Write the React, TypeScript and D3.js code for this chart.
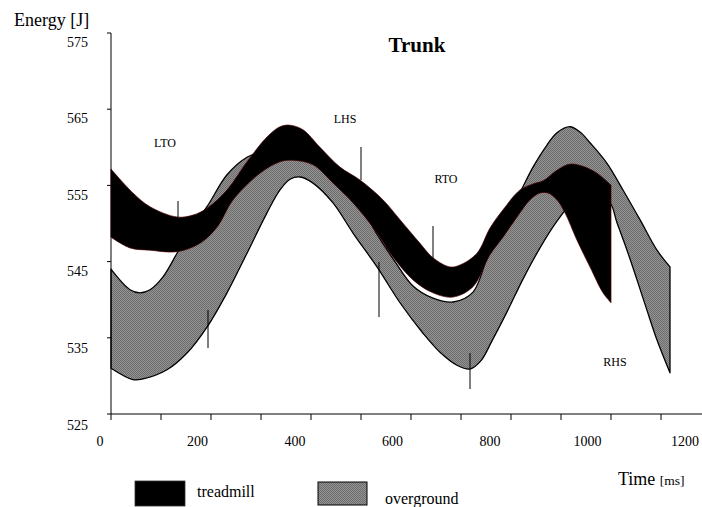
import React from "react";
import * as d3 from "d3";

type P = [number, number];

// time [ms], energy [J]
const treadmillUpper: P[] = [
  [0, 557.15], [44, 554.0], [78, 552.2], [132, 550.85], [164, 551.1], [192, 552.0],
  [232, 554.4], [272, 558.1], [312, 561.35], [338, 562.7], [358, 562.9], [384, 562.3],
  [418, 560.0], [458, 557.4], [498, 555.7], [544, 553.1], [578, 550.5], [618, 547.4],
  [644, 545.5], [678, 544.3], [698, 544.55], [732, 546.1], [758, 549.4], [784, 551.8],
  [818, 554.4], [844, 555.2], [864, 555.6], [892, 557.0], [918, 557.8], [944, 557.5],
  [972, 556.6], [1000, 555.05],
];
const treadmillLower: P[] = [
  [0, 548.2], [38, 546.8], [78, 546.5], [132, 546.3], [178, 547.4], [212, 549.5],
  [244, 553.1], [298, 556.6], [338, 558.1], [364, 558.3], [404, 557.7], [444, 555.3],
  [484, 552.7], [524, 549.5], [564, 545.6], [604, 542.6], [644, 540.9], [684, 540.35],
  [724, 541.7], [758, 545.9], [784, 548.2], [812, 550.85], [838, 553.1], [858, 554.0],
  [874, 554.0], [892, 553.1], [908, 551.4], [932, 547.8], [958, 544.3], [984, 540.9],
  [1000, 539.6],
];
const overgroundUpper: P[] = [
  [0, 544.0], [38, 541.3], [58, 540.9], [78, 541.3], [104, 543.0], [132, 546.1],
  [158, 549.1], [192, 552.2], [232, 556.4], [272, 558.7], [312, 559.6], [358, 560.2],
  [404, 559.4], [444, 557.0], [484, 553.7], [508, 551.4], [532, 548.6], [568, 545.0],
  [604, 541.8], [644, 540.2], [684, 539.7], [724, 541.0], [758, 546.8], [784, 550.2],
  [802, 552.3], [818, 554.1], [844, 557.4], [872, 560.3], [892, 561.9], [918, 562.7],
  [938, 562.0], [958, 560.6], [992, 557.9], [1024, 554.4], [1058, 550.5], [1092, 546.5],
  [1118, 544.3],
];
const overgroundLower: P[] = [
  [0, 531.0], [44, 529.5], [64, 529.6], [112, 530.8], [152, 533.0], [192, 536.4],
  [232, 540.9], [272, 546.1], [312, 551.4], [338, 554.4], [358, 555.8], [378, 556.1],
  [404, 555.3], [444, 552.7], [484, 548.75], [532, 544.3], [578, 539.6], [624, 535.6],
  [658, 533.1], [692, 531.4], [718, 530.9], [740, 532.0], [762, 534.6], [792, 538.4],
  [824, 542.7], [858, 546.8], [892, 550.3], [918, 552.4], [948, 553.5], [974, 553.5],
  [998, 552.7], [1012, 550.1], [1032, 546.5], [1052, 542.6], [1072, 538.6], [1092, 534.7],
  [1118, 530.4],
];

// gait event markers: [time, energy from, energy to]
const markers: [number, number, number][] = [
  [134, 552.95, 550.85],
  [194, 538.65, 533.65],
  [500, 560.04, 555.7],
  [536, 544.95, 537.73],
  [644, 549.67, 545.47],
  [718, 533.0, 528.28],
];
const eventLabels = ["LTO", "LHS", "RTO", "RHS"];
const eventLabelPos: P[] = [[108, 560.6], [468, 563.7], [670, 555.8], [1008, 531.8]];

const yTicks = [525, 535, 545, 555, 565, 575];
const xTicks = [0, 100, 200, 300, 400, 500, 600, 700, 800, 900, 1000, 1100, 1200];
const xTickLabels = [0, 200, 400, 600, 800, 1000, 1200];

const seriesNames = ["treadmill", "overground"];

const FONT = "'Liberation Serif', 'Times New Roman', serif";

export default function App() {
  const x = d3.scaleLinear().domain([0, 1200]).range([111, 711]);
  const y = d3.scaleLinear().domain([525, 575]).range([414, 33]);
  const xLab = d3.scaleLinear().domain([0, 1200]).range([100, 685]);
  const yLab = d3.scaleLinear().domain([525, 575]).range([425, 42]);

  const line = d3
    .line<P>()
    .x((d) => x(d[0]))
    .y((d) => y(d[1]))
    .curve(d3.curveCatmullRom.alpha(0.5));

  const band = (upper: P[], lower: P[]) => {
    const a = line(upper) as string;
    const b = line([...lower].reverse()) as string;
    return a + "L" + b.slice(1) + "Z";
  };

  return (
    <svg
      width={702}
      height={507}
      style={{ position: "absolute", left: 0, top: 0, background: "#fff" }}
      fontFamily={FONT}
    >
      <defs>
        <pattern id="dither" width={2} height={2} patternUnits="userSpaceOnUse">
          <rect width={2} height={2} fill="#949494" />
          <rect x={0} y={0} width={1} height={1} fill="#6c6c6c" />
          <rect x={1} y={1} width={1} height={1} fill="#6c6c6c" />
        </pattern>
      </defs>

      {/* bands */}
      <path d={band(overgroundUpper, overgroundLower)} fill="url(#dither)" stroke="#000" strokeWidth={1.3} strokeLinejoin="round" />
      <path d={band(treadmillUpper, treadmillLower)} fill="#000" stroke="#4a0000" strokeWidth={0.7} strokeLinejoin="round" />

      {/* markers */}
      {markers.map((m, i) => (
        <line key={i} x1={x(m[0])} x2={x(m[0])} y1={y(m[1])} y2={y(m[2])} stroke="#000" strokeWidth={1} />
      ))}
      {eventLabels.map((t, i) => (
        <text key={t} x={x(eventLabelPos[i][0])} y={y(eventLabelPos[i][1])} fontSize={12} textAnchor="middle" dominantBaseline="central">
          {t}
        </text>
      ))}

      {/* y axis */}
      <line x1={x(0)} x2={x(0)} y1={y(575)} y2={y(525)} stroke="#000" strokeWidth={1} />
      {yTicks.map((t) => (
        <g key={t}>
          <line x1={x(0) - 4} x2={x(0)} y1={y(t)} y2={y(t)} stroke="#000" />
          <text x={88} y={yLab(t)} fontSize={14} textAnchor="end" dominantBaseline="central">
            {t}
          </text>
        </g>
      ))}

      {/* x axis */}
      <line x1={x(0)} x2={x(1200)} y1={y(525)} y2={y(525)} stroke="#000" strokeWidth={1} />
      {xTicks.map((t) => (
        <line key={t} x1={x(t)} x2={x(t)} y1={y(525)} y2={y(525) + 6} stroke="#000" />
      ))}
      {xTickLabels.map((t) => (
        <text key={t} x={xLab(t)} y={441} fontSize={14} textAnchor="middle" dominantBaseline="central">
          {t}
        </text>
      ))}

      {/* titles */}
      <text x={417} y={52} fontSize={21} fontWeight="bold" textAnchor="middle">
        Trunk
      </text>
      <text x={14} y={26} fontSize={18}>
        Energy [J]
      </text>
      <text x={618} y={485} fontSize={18}>
        Time <tspan fontSize={13.5}>[ms]</tspan>
      </text>

      {/* legend */}
      <rect x={135} y={481} width={50} height={25} fill="#000" stroke="#333" strokeWidth={0.8} />
      <text x={197} y={497} fontSize={16}>
        {seriesNames[0]}
      </text>
      <rect x={318} y={482} width={49} height={23} fill="url(#dither)" stroke="#000" strokeWidth={1} />
      <text x={385} y={504} fontSize={16}>
        {seriesNames[1]}
      </text>
    </svg>
  );
}
